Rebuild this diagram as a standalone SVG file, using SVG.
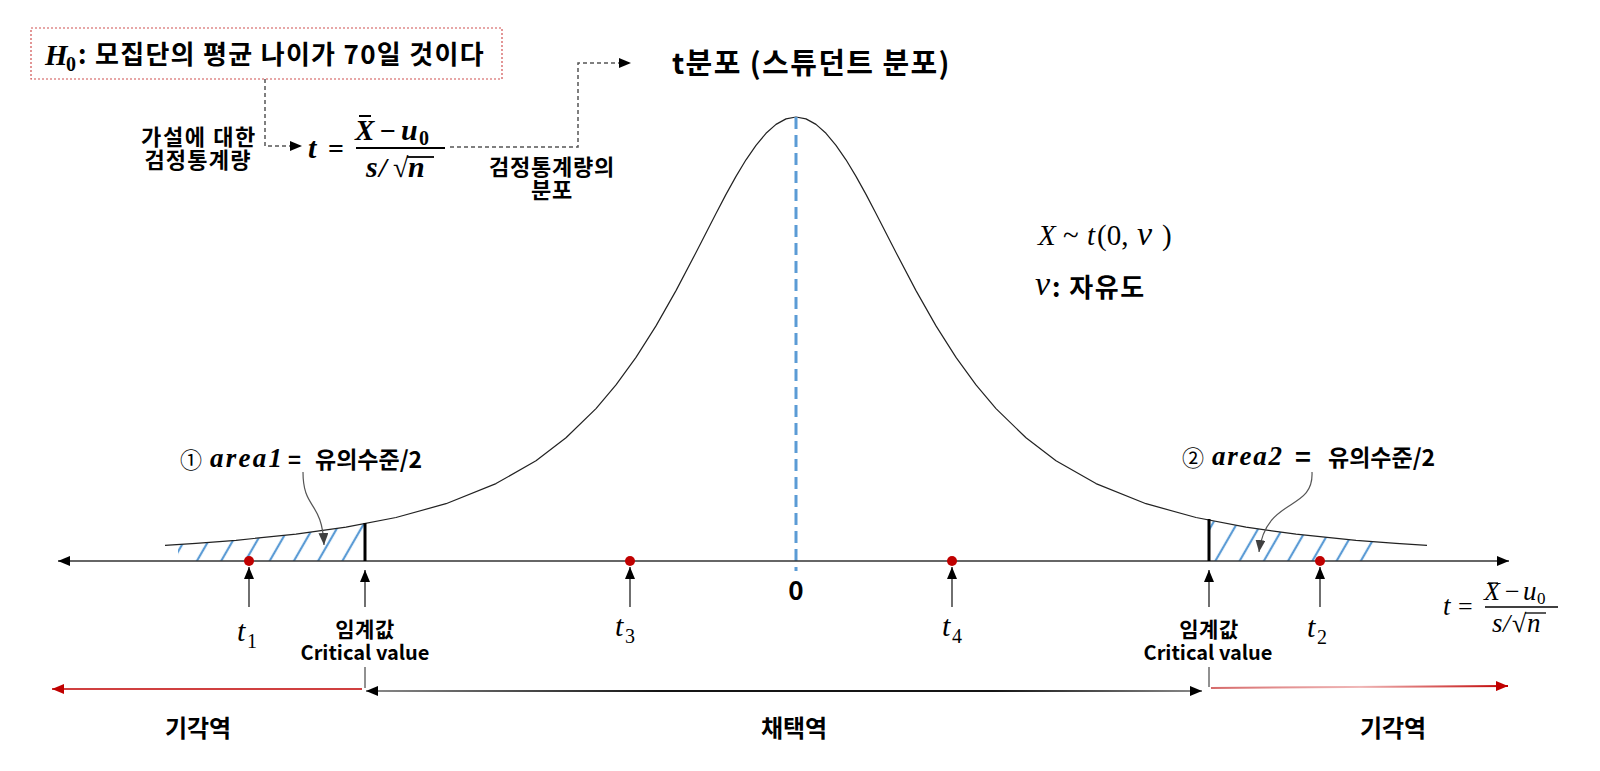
<svg xmlns="http://www.w3.org/2000/svg" width="1600" height="771" viewBox="0 0 1600 771">
<defs>
<style>
.kr{font-family:'Noto Sans CJK KR','Noto Sans',sans-serif;font-weight:700;fill:#000}
.krn{font-family:'Noto Sans CJK KR','Noto Sans',sans-serif;font-weight:400;fill:#000}
.m{font-family:'Liberation Serif','DejaVu Serif',serif;font-style:italic;fill:#000}
.mb{font-family:'Liberation Serif','DejaVu Serif',serif;font-style:italic;font-weight:700;fill:#000}
.mu{font-family:'Liberation Serif','DejaVu Serif',serif;fill:#000}
.mub{font-family:'Liberation Serif','DejaVu Serif',serif;font-weight:700;fill:#000}
.dash{fill:none;stroke:#555;stroke-width:1.5;stroke-dasharray:4 3}
.up{stroke:#222;stroke-width:1.3;marker-end:url(#ah)}
.dot{fill:#C00000}
.crit{stroke:#000;stroke-width:3}
</style>
<marker id="ah" viewBox="0 0 12 10" refX="12" refY="5" markerWidth="12" markerHeight="10" markerUnits="userSpaceOnUse" orient="auto-start-reverse"><path d="M0,0 L12,5 L0,10 Z" fill="#000"/></marker>
<marker id="ahr" viewBox="0 0 12 10" refX="12" refY="5" markerWidth="12" markerHeight="10" markerUnits="userSpaceOnUse" orient="auto-start-reverse"><path d="M0,0 L12,5 L0,10 Z" fill="#C00000"/></marker>
<marker id="ahg" viewBox="0 0 12 10" refX="12" refY="5" markerWidth="12" markerHeight="10" markerUnits="userSpaceOnUse" orient="auto"><path d="M0,0 L12,5 L0,10 Z" fill="#404040"/></marker>
<pattern id="hatch" patternUnits="userSpaceOnUse" width="21" height="21" patternTransform="rotate(30)"><line x1="10" y1="-1" x2="10" y2="22" stroke="#5B9BD5" stroke-width="2.2"/></pattern>
<linearGradient id="gk" gradientUnits="userSpaceOnUse" x1="366" y1="0" x2="1202" y2="0"><stop offset="0" stop-color="#8a8a8a"/><stop offset="0.35" stop-color="#151515"/><stop offset="0.75" stop-color="#151515"/><stop offset="1" stop-color="#8a8a8a"/></linearGradient>
<linearGradient id="gr" gradientUnits="userSpaceOnUse" x1="1211" y1="0" x2="1508" y2="0"><stop offset="0" stop-color="#D66A6A"/><stop offset="0.5" stop-color="#F0B8B8"/><stop offset="1" stop-color="#C00000"/></linearGradient>
</defs>
<rect width="1600" height="771" fill="#fff"/>

<g id="hatch-areas">
<path d="M178,561 L178,544.5 L236,540.3 L296,534.2 L346,527.2 L364,524.1 L364,561 Z" fill="url(#hatch)"/>
<path d="M1209,561 L1209,520.3 L1246,527.2 L1296,534.2 L1356,540.3 L1378,542 L1378,561 Z" fill="url(#hatch)"/>
</g>

<g id="curve">
<polyline fill="none" stroke="#222" stroke-width="1.2" stroke-linejoin="round" points="165,545.3 196,543.3 236,540.3 296,534.2 346,527.2 396,517.5 446,503.7 496,483.6 536,460.7 566,437.8 596,408.6 616,384.9 636,357.4 656,325.9 676,290.6 696,252.5 716,213.5 726,194.4 736,176.4 746,159.8 756,145.3 766,133.3 776,124.4 786,118.9 796,117 806,118.9 816,124.4 826,133.3 836,145.3 846,159.8 856,176.4 866,194.4 876,213.5 896,252.5 916,290.6 936,325.9 956,357.4 976,384.9 996,408.6 1026,437.8 1056,460.7 1096,483.6 1146,503.7 1196,517.5 1246,527.2 1296,534.2 1356,540.3 1396,543.3 1427,545.3"/>
</g>

<g id="center-line">
<line x1="796" y1="117" x2="796" y2="571" stroke="#5B9BD5" stroke-width="3" stroke-dasharray="12 6"/>
</g>

<g id="connectors">
<path class="dash" d="M265,79 V146 H302" marker-end="url(#ah)"/>
<path class="dash" d="M450,147 H578 V63 H631" marker-end="url(#ah)"/>
<line x1="58" y1="561" x2="1509" y2="561" stroke="#333" stroke-width="1.3" marker-start="url(#ah)" marker-end="url(#ah)"/>
<line class="up" x1="249" y1="607" x2="249" y2="567"/>
<line class="up" x1="630" y1="607" x2="630" y2="567"/>
<line class="up" x1="952" y1="607" x2="952" y2="567"/>
<line class="up" x1="1320" y1="607" x2="1320" y2="567"/>
<line class="up" x1="365" y1="607" x2="365" y2="570"/>
<line class="up" x1="1209" y1="607" x2="1209" y2="570"/>
<path d="M303,472 C303,510 322,500 324,545" fill="none" stroke="#555" stroke-width="1.2" marker-end="url(#ahg)"/>
<path d="M1312,472 C1314,512 1266,496 1259,552" fill="none" stroke="#555" stroke-width="1.2" marker-end="url(#ahg)"/>
<line x1="365" y1="667" x2="365" y2="688" stroke="#222" stroke-width="1"/>
<line x1="1209" y1="667" x2="1209" y2="687" stroke="#222" stroke-width="1"/>
<line x1="362" y1="689" x2="52" y2="689" stroke="#C00000" stroke-width="1.5" marker-end="url(#ahr)"/>
<line x1="366" y1="691" x2="1202" y2="691" stroke="url(#gk)" stroke-width="2.2" marker-start="url(#ah)" marker-end="url(#ah)"/>
<line x1="1211" y1="688" x2="1508" y2="686" stroke="url(#gr)" stroke-width="2" marker-end="url(#ahr)"/>
</g>

<g id="critical-bars">
<line class="crit" x1="365" y1="523" x2="365" y2="561"/>
<line class="crit" x1="1209" y1="519" x2="1209" y2="561"/>
</g>

<g id="points">
<circle class="dot" cx="249" cy="561" r="5"/>
<circle class="dot" cx="630" cy="561" r="5"/>
<circle class="dot" cx="952" cy="561" r="5"/>
<circle class="dot" cx="1320" cy="561" r="5"/>
</g>

<g id="hypothesis">
<rect x="31" y="28" width="471" height="51" fill="none" stroke="#D05050" stroke-width="1.2" stroke-dasharray="2 2"/>
<text class="mb" x="45" y="65" font-size="29">H</text>
<text class="mub" x="66" y="71" font-size="20">0</text>
<text class="kr" x="78" y="64" font-size="26" letter-spacing="1.3">: 모집단의 평균 나이가 70일 것이다</text>
</g>

<g id="label-test-stat">
<text class="kr" x="199" y="145" font-size="22" letter-spacing="1.6" text-anchor="middle">가설에 대한</text>
<text class="kr" x="198" y="168" font-size="22" letter-spacing="1.2" text-anchor="middle">검정통계량</text>
</g>

<g id="formula-main">
<text class="mb" x="308" y="158" font-size="30">t</text>
<text class="mub" x="328" y="158" font-size="28">=</text>
<line x1="356" y1="148" x2="445" y2="148" stroke="#000" stroke-width="2"/>
<text class="mb" x="355" y="140" font-size="29">X</text>
<line x1="359" y1="116" x2="371" y2="116" stroke="#000" stroke-width="2"/>
<text class="mub" x="380" y="140" font-size="28">−</text>
<text class="mb" x="401" y="140" font-size="30">u</text>
<text class="mub" x="419" y="145" font-size="20">0</text>
<text class="mb" x="366" y="177" font-size="30">s</text>
<text class="mb" x="379" y="177" font-size="28">/</text>
<text class="mub" x="393" y="177" font-size="28">√</text>
<line x1="407" y1="157" x2="434" y2="157" stroke="#000" stroke-width="1.8"/>
<text class="mb" x="408" y="177" font-size="30">n</text>
</g>

<g id="label-dist">
<text class="kr" x="552" y="175" font-size="22" letter-spacing="0.8" text-anchor="middle">검정통계량의</text>
<text class="kr" x="552" y="198" font-size="22" letter-spacing="0.8" text-anchor="middle">분포</text>
</g>

<g id="title">
<text class="kr" x="672" y="74" font-size="29" letter-spacing="1.4">t분포 (스튜던트 분포)</text>
</g>

<g id="dist-def">
<text class="m" x="1038" y="245" font-size="29">X</text>
<text class="mu" x="1063" y="245" font-size="29">~</text>
<text class="m" x="1087" y="245" font-size="29">t</text>
<text class="mu" x="1097" y="245" font-size="29">(0,</text>
<text class="m" x="1137" y="245" font-size="34">ν</text>
<text class="mu" x="1162" y="245" font-size="29">)</text>
<text class="m" x="1035" y="295" font-size="34">ν</text>
<text class="kr" x="1052" y="297" font-size="26" letter-spacing="1.5">: 자유도</text>
</g>

<g id="area1">
<text class="krn" x="180" y="468" font-size="22">①</text>
<text class="mb" x="210" y="467" font-size="27" textLength="72" lengthAdjust="spacing">area1</text>
<text class="kr" x="288" y="468" font-size="22">=</text>
<text class="kr" x="315" y="468" font-size="23">유의수준/2</text>
</g>

<g id="area2">
<text class="krn" x="1182" y="466" font-size="22">②</text>
<text class="mb" x="1212" y="465" font-size="27" textLength="70" lengthAdjust="spacing">area2</text>
<text class="kr" x="1295" y="467" font-size="27">=</text>
<text class="kr" x="1328" y="466" font-size="23">유의수준/2</text>
</g>

<g id="t-labels">
<text class="m" x="237" y="641" font-size="30">t</text><text class="mu" x="247" y="648" font-size="20">1</text>
<text class="m" x="615" y="636" font-size="30">t</text><text class="mu" x="625" y="643" font-size="20">3</text>
<text class="m" x="942" y="636" font-size="30">t</text><text class="mu" x="952" y="643" font-size="20">4</text>
<text class="m" x="1307" y="637" font-size="30">t</text><text class="mu" x="1317" y="644" font-size="20">2</text>
<text class="kr" x="796" y="600" font-size="26" text-anchor="middle">0</text>
</g>

<g id="crit-left">
<text class="kr" x="365" y="637" font-size="21" letter-spacing="0.5" text-anchor="middle">임계값</text>
<text class="kr" x="365" y="660" font-size="20" text-anchor="middle">Critical value</text>
</g>
<g id="crit-right">
<text class="kr" x="1209" y="637" font-size="21" letter-spacing="0.5" text-anchor="middle">임계값</text>
<text class="kr" x="1208" y="660" font-size="20" text-anchor="middle">Critical value</text>
</g>

<g id="axis-formula">
<text class="m" x="1443" y="615" font-size="27">t</text>
<text class="mu" x="1458" y="615" font-size="26">=</text>
<line x1="1485" y1="607" x2="1558" y2="607" stroke="#000" stroke-width="1.3"/>
<text class="m" x="1484" y="600" font-size="26">X</text>
<line x1="1488" y1="583" x2="1498" y2="583" stroke="#000" stroke-width="1.3"/>
<text class="mu" x="1505" y="600" font-size="26">−</text>
<text class="m" x="1523" y="600" font-size="27">u</text>
<text class="mu" x="1537" y="604" font-size="17">0</text>
<text class="m" x="1492" y="632" font-size="27">s</text>
<text class="m" x="1503" y="632" font-size="26">/</text>
<text class="mu" x="1512" y="632" font-size="26">√</text>
<line x1="1525" y1="613" x2="1546" y2="613" stroke="#000" stroke-width="1.3"/>
<text class="m" x="1527" y="632" font-size="27">n</text>
</g>

<g id="regions">
<text class="kr" x="198" y="737" font-size="24" text-anchor="middle">기각역</text>
<text class="kr" x="794" y="737" font-size="24" text-anchor="middle">채택역</text>
<text class="kr" x="1393" y="737" font-size="24" text-anchor="middle">기각역</text>
</g>
</svg>
